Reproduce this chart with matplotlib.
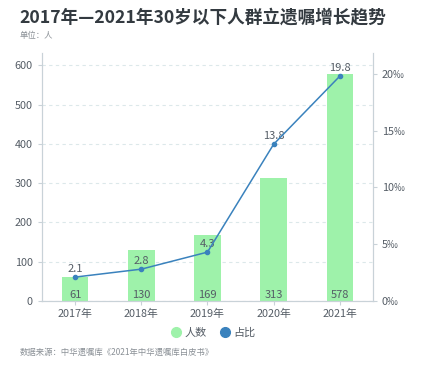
import numpy as np
import matplotlib.pyplot as plt
from matplotlib.lines import Line2D

plt.rcParams['font.family'] = ['Noto Sans CJK SC', 'DejaVu Sans']

# data
years = ['2017年', '2018年', '2019年', '2020年', '2021年']
people = [61, 130, 169, 313, 578]
ratio = [2.1, 2.8, 4.3, 13.8, 19.8]   # ‰

bar_color = '#9ef2aa'
line_color = '#3a82bd'
text_color = '#555d66'
axis_color = '#c9d2d8'

fig = plt.figure(figsize=(4.4, 3.67), dpi=100)
ax = fig.add_axes([0.0955, 0.18, 0.752, 0.676])
ax2 = ax.twinx()

x = np.arange(len(years))
ax.bar(x, people, width=0.4, color=bar_color, zorder=2)
for xi, v in zip(x, people):
    ax.text(xi, 3, str(v), ha='center', va='bottom', fontsize=8, color=text_color, zorder=3)

ax.set_xlim(-0.5, 4.5)
ax.set_ylim(0, 632)
ax.set_yticks(range(0, 601, 100))
ax.yaxis.grid(True, linestyle=(0, (3, 3)), color='#dce8ea', linewidth=0.8)
ax.set_axisbelow(True)
ax.set_xticks(x)
ax.set_xticklabels(years)

ax2.plot(x, ratio, color=line_color, linewidth=1.1, marker='o', markersize=3, zorder=4)
for xi, v in zip(x, ratio):
    ax2.text(xi, v + 0.3, str(v), ha='center', va='bottom', fontsize=8, color=text_color)
ax2.set_ylim(0, 21.85)
ax2.set_yticks([0, 5, 10, 15, 20])
ax2.set_yticklabels([f'{t}‰' for t in [0, 5, 10, 15, 20]])

for a in (ax, ax2):
    for s in a.spines.values():
        s.set_color(axis_color)
    a.spines['top'].set_visible(False)
    a.tick_params(colors=axis_color, labelcolor=text_color, labelsize=7.8, length=3, width=0.8)
ax.tick_params(axis='x', length=3, pad=3)

fig.text(0.045, 0.952, '2017年—2021年30岁以下人群立遗嘱增长趋势', fontsize=12.7,
         fontweight='bold', color='#333a40', va='center')
fig.text(0.045, 0.902, '单位：人', fontsize=6, color='#8a9096', va='center')
fig.text(0.045, 0.04, '数据来源：中华遗嘱库《2021年中华遗嘱库白皮书》', fontsize=6,
         color='#8a9096', va='center')

handles = [Line2D([], [], linestyle='none', marker='o', markersize=7, color=bar_color),
           Line2D([], [], linestyle='none', marker='o', markersize=7, color=line_color)]
fig.legend(handles, ['人数', '占比'], loc='center', bbox_to_anchor=(0.483, 0.093), ncol=2,
           frameon=False, fontsize=8, labelcolor=text_color, handletextpad=0.2,
           columnspacing=1.0, handlelength=1.2)

fig.savefig('out.png', dpi=100)
